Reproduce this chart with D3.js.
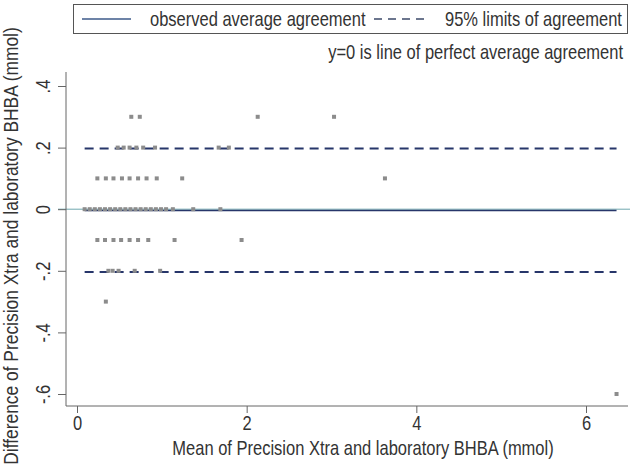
<!DOCTYPE html>
<html><head><meta charset="utf-8">
<script src="https://cdn.jsdelivr.net/npm/d3@7/dist/d3.min.js"></script>
<style>body{margin:0;background:#fff}svg{display:block}text{font-family:"Liberation Sans",Arial,sans-serif;fill:#333}</style>
</head><body><svg id="c" width="634" height="468"></svg>
<script>
// Data: means (x) grouped by difference level (y)
const diffLevels = [0.3, 0.2, 0.1, 0, -0.1, -0.2, -0.3, -0.6];
const meansAt03 = [0.64, 0.74, 2.13, 3.03];
const meansAt02 = [0.48, 0.55, 0.62, 0.70, 0.78, 0.92, 1.67, 1.79];
const meansAt01 = [0.24, 0.34, 0.43, 0.53, 0.62, 0.72, 0.82, 0.94, 1.24, 3.63];
const meansAt0  = [0.09, 0.15, 0.21, 0.27, 0.33, 0.39, 0.45, 0.51, 0.57, 0.63, 0.69, 0.75, 0.81, 0.87, 0.93, 0.99, 1.05, 1.13, 1.37, 1.69];
const meansAtM01 = [0.24, 0.33, 0.43, 0.52, 0.62, 0.72, 0.84, 1.15, 1.94];
const meansAtM02 = [0.37, 0.42, 0.49, 0.68, 0.98];
const meansAtM03 = [0.34];
const meansAtM06 = [6.36];
const meanDiff = -0.004;
const upperLoA = 0.197;
const lowerLoA = -0.204;
const xTicks = [0, 2, 4, 6];
const yTicks = [0.4, 0.2, 0, -0.2, -0.4, -0.6];
const legendLabels = ["observed average agreement", "95% limits of agreement"];
const noteText = "y=0 is line of perfect average agreement";
const xTitle = "Mean of Precision Xtra and laboratory BHBA (mmol)";
const yTitle = "Difference of Precision Xtra and laboratory BHBA (mmol)";

const groups = [meansAt03, meansAt02, meansAt01, meansAt0, meansAtM01, meansAtM02, meansAtM03, meansAtM06];
const points = [];
groups.forEach((g, i) => g.forEach(m => points.push({x: m, y: diffLevels[i]})));

const svg = d3.select("#c");
const x = d3.scaleLinear().domain([0, 6]).range([77, 586]);
const y = d3.scaleLinear().domain([-0.6, 0.4]).range([394, 86]);
const axisCol = "#666", navy = "#27366a", fs = "20px", sx = 0.825;

function addText(tx, ty, str, anchor, extra) {
  return svg.append("text")
    .attr("transform", `translate(${tx},${ty}) ${extra || ""} scale(${sx},1)`)
    .attr("text-anchor", anchor || "start").style("font-size", fs).text(str);
}

// y=0 reference line
svg.append("line").attr("x1", 58).attr("x2", 630).attr("y1", y(0)).attr("y2", y(0))
  .attr("stroke", "#6fa7ae").attr("stroke-width", 1);

// axes lines
svg.append("line").attr("x1", 66).attr("x2", 66).attr("y1", 72).attr("y2", 406).attr("stroke", axisCol);
svg.append("line").attr("x1", 66).attr("x2", 628).attr("y1", 406).attr("y2", 406).attr("stroke", axisCol);

// x axis
const gx = svg.append("g").attr("transform", "translate(0,406)")
  .call(d3.axisBottom(x).tickValues(xTicks).tickSize(7).tickFormat(d3.format("d")));
gx.select(".domain").remove();
gx.selectAll("line").attr("stroke", axisCol);
gx.selectAll("text").style("font-size", fs).attr("fill", "#333").attr("font-family", null)
  .attr("y", null).attr("dy", null).attr("transform", `translate(0,24) scale(${sx},1)`);

// y axis
const fmtY = d => d === 0 ? "0" : (d < 0 ? "-" : "") + "." + Math.round(Math.abs(d) * 10);
const gy = svg.append("g").attr("transform", "translate(66,0)")
  .call(d3.axisLeft(y).tickValues(yTicks).tickSize(8).tickFormat(fmtY));
gy.select(".domain").remove();
gy.selectAll("line").attr("stroke", axisCol);
gy.selectAll("text").style("font-size", fs).attr("fill", "#333").attr("font-family", null)
  .attr("x", null).attr("dy", null).attr("text-anchor", "middle")
  .attr("transform", `translate(-16,0) rotate(-90) scale(${sx},1)`);

// limits and mean lines across data range
const xr = d3.extent(points, d => d.x);
[upperLoA, lowerLoA].forEach(v => {
  svg.append("line").attr("x1", x(xr[0])).attr("x2", x(xr[1])).attr("y1", y(v)).attr("y2", y(v))
    .attr("stroke", navy).attr("stroke-width", 2).attr("stroke-dasharray", "9,6");
});
svg.append("line").attr("x1", x(xr[0])).attr("x2", x(xr[1])).attr("y1", y(meanDiff)).attr("y2", y(meanDiff))
  .attr("stroke", navy).attr("stroke-width", 1.6);

// points
svg.append("g").selectAll("rect").data(points).join("rect")
  .attr("x", d => x(d.x) - 2).attr("y", d => y(d.y) - 2).attr("width", 4).attr("height", 4)
  .attr("fill", "#8c8c8c");

// legend
svg.append("rect").attr("x", 73.5).attr("y", 4.5).attr("width", 554).attr("height", 29)
  .attr("fill", "#fff").attr("stroke", "#555");
svg.append("line").attr("x1", 82).attr("x2", 131).attr("y1", 19).attr("y2", 19).attr("stroke", "#3d5a8a").attr("stroke-width", 1.5);
addText(150, 26, legendLabels[0]);
svg.append("line").attr("x1", 374).attr("x2", 426).attr("y1", 19).attr("y2", 19).attr("stroke", "#3d4a6a")
  .attr("stroke-width", 1.5).attr("stroke-dasharray", "8,6");
addText(445, 26, legendLabels[1]);

addText(623, 59, noteText, "end");

// titles
addText(363, 455, xTitle, "middle");
svg.append("text").attr("transform", `translate(18,246) rotate(-90) scale(0.87,1)`)
  .attr("text-anchor", "middle").style("font-size", fs).text(yTitle);
</script></body></html>
